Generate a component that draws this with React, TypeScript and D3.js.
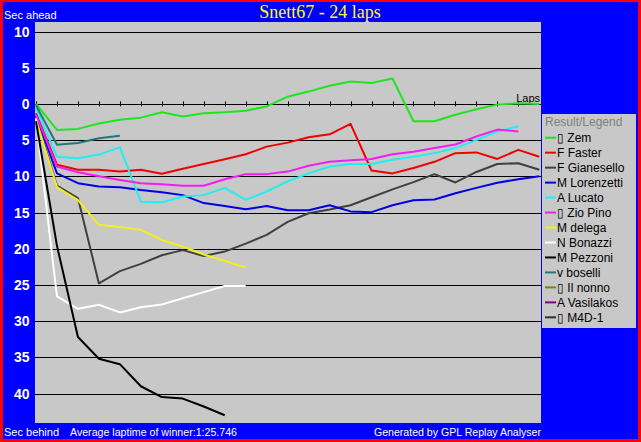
import * as d3 from 'd3';

// seconds behind the leader, one value per lap (lap 0 = start)
const zem = [0, 3.6, 3.45, 2.7, 2.2, 1.9, 1.15, 1.75, 1.3, 1.15, 0.95, 0.35, -1.0, -1.7, -2.5, -3.1, -2.9, -3.5, 2.4, 2.4, 1.5, 0.75, 0.1, -0.1, 0];
const faster = [1.3, 8.4, 9.1, 9.1, 9.35, 9.1, 9.65, 8.95, 8.3, 7.65, 6.95, 5.9, 5.35, 4.6, 4.2, 2.75, 9.2, 9.6, 8.85, 8.0, 6.8, 6.7, 7.6, 6.35, 7.3];
const gianesello = [1.8, 11.3, 13.0, 24.8, 23.1, 22.1, 20.9, 20.2, 21.0, 20.4, 19.3, 18.1, 16.3, 15.1, 14.6, 14.0, 12.9, 11.8, 10.8, 9.7, 10.85, 9.4, 8.3, 8.2, 9.1];
const lorenzetti = [1.6, 9.6, 10.95, 11.4, 11.5, 11.9, 12.2, 12.6, 13.7, 14.1, 14.55, 14.1, 14.7, 14.7, 14.0, 14.85, 14.95, 14.0, 13.3, 13.2, 12.35, 11.6, 10.9, 10.4, 10.0];
const lucato = [0.6, 7.3, 7.5, 7.0, 6.0, 13.5, 13.6, 12.8, 12.6, 11.6, 13.25, 12.1, 10.7, 9.6, 8.65, 8.3, 8.3, 7.7, 7.3, 6.8, 6.1, 5.0, 3.8, 3.1];
const zioPino = [1.5, 8.65, 9.45, 10.0, 10.5, 10.95, 11.1, 11.3, 11.3, 10.4, 9.7, 9.7, 9.35, 8.55, 8.0, 7.8, 7.6, 6.95, 6.6, 6.1, 5.6, 4.5, 3.55, 3.8];
const delega = [2.2, 11.5, 13.3, 16.7, 17.0, 17.4, 18.8, 19.7, 20.8, 21.7, 22.6];
const bonazzi = [2.0, 26.6, 28.3, 27.75, 28.8, 28.1, 27.7, 26.85, 26.0, 25.15, 25.15];
const pezzoni = [2.4, 19.6, 32.2, 35.2, 35.95, 39.0, 40.5, 40.7, 41.8, 43.0];
const boselli = [0.2, 5.65, 5.4, 4.75, 4.4];
const ilNonno: number[] = [];
const vasilakos: number[] = [];
const m4d1: number[] = [];

const drivers = ['\u25AF Zem', 'F Faster', 'F Gianesello', 'M Lorenzetti', 'A Lucato', '\u25AF Zio Pino', 'M delega', 'N Bonazzi', 'M Pezzoni', 'v boselli', '\u25AF Il nonno', 'A Vasilakos', '\u25AF M4D-1'];
const colors = ['#1ee61e', '#f00000', '#404040', '#0000e6', '#1ef0f0', '#f01ef0', '#f0f01e', '#ffffff', '#000000', '#207878', '#808000', '#800080', '#303030'];
const series = [zem, faster, gianesello, lorenzetti, lucato, zioPino, delega, bonazzi, pezzoni, boselli, ilNonno, vasilakos, m4d1];

const yTicks = [-10, -5, 0, 5, 10, 15, 20, 25, 30, 35, 40];
const lapTicks = [0, 1, 2, 3, 4, 5, 6, 7, 8, 9, 10, 11, 12, 13, 14, 15, 16, 17, 18, 19, 20, 21, 22, 23];

const W = 641;
const H = 442;
const plot = { left: 35, right: 541, top: 22, bottom: 423 };
const sans = 'Liberation Sans, Arial, sans-serif';

export default function App() {
  const x = d3.scaleLinear().domain([0, 24]).range([36, 539.3]);
  const y = d3.scaleLinear().domain([-10, 40]).range([31.5, 393.5]);
  const line = d3
    .line<number>()
    .x((_, i) => x(i))
    .y((d) => y(d));

  const legendRow = (i: number) => 137.7 + i * 14.97;

  return (
    <svg width={W} height={H} style={{ position: 'fixed', left: 0, top: 0 }}>
      <rect x={0} y={0} width={W} height={H} fill="#ff0000" />
      <rect x={3} y={2} width={W - 6} height={H - 5} fill="#0000ff" />

      <text x={320} y={18} textAnchor="middle" fontFamily="Liberation Serif, serif" fontSize={18} fill="#ffff00">
        Snett67 - 24 laps
      </text>
      <text x={4} y={19} fontFamily={sans} fontSize={11} fill="#fff">Sec ahead</text>

      <rect x={plot.left} y={plot.top} width={plot.right - plot.left} height={plot.bottom - plot.top} fill="#c8c8c8" />

      {yTicks.map((t) => (
        <g key={t}>
          <line x1={plot.left} x2={plot.right} y1={Math.round(y(t)) + 0.5} y2={Math.round(y(t)) + 0.5} stroke="#000" strokeWidth={1} />
          <text x={29.5} y={y(t) + 5} textAnchor="end" fontFamily={sans} fontWeight="bold" fontSize={14} fill="#fff">
            {Math.abs(t)}
          </text>
        </g>
      ))}

      {lapTicks.map((l) => (
        <line key={l} x1={Math.round(x(l)) + 0.5} x2={Math.round(x(l)) + 0.5} y1={y(0) - 2.5} y2={y(0) + 2.5} stroke="#000" strokeWidth={1} />
      ))}
      <text x={540} y={y(0) - 2} textAnchor="end" fontFamily={sans} fontSize={11} fill="#000">Laps</text>

      {series.map((s, i) =>
        s.length > 1 ? (
          <path key={drivers[i]} d={line(s) ?? ''} fill="none" stroke={colors[i]} strokeWidth={2} strokeLinejoin="round" />
        ) : null
      )}

      <rect x={542} y={114} width={94} height={214} fill="#c8c8c8" />
      <text x={545} y={126} fontFamily={sans} fontSize={12} fill="#808080">Result/Legend</text>
      {drivers.map((name, i) => (
        <g key={name}>
          <line x1={545} x2={556} y1={legendRow(i)} y2={legendRow(i)} stroke={colors[i]} strokeWidth={2} />
          <text x={557} y={legendRow(i) + 4.5} fontFamily={sans} fontSize={12} fill="#000">{name}</text>
        </g>
      ))}

      <text x={4} y={436} fontFamily={sans} fontSize={11} fill="#fff">Sec behind</text>
      <text x={70} y={436} fontFamily={sans} fontSize={11} fill="#fff" textLength={167} lengthAdjust="spacingAndGlyphs">
        Average laptime of winner:1:25.746
      </text>
      <text x={374} y={436} fontFamily={sans} fontSize={11} fill="#fff" textLength={167} lengthAdjust="spacingAndGlyphs">
        Generated by GPL Replay Analyser
      </text>
    </svg>
  );
}
